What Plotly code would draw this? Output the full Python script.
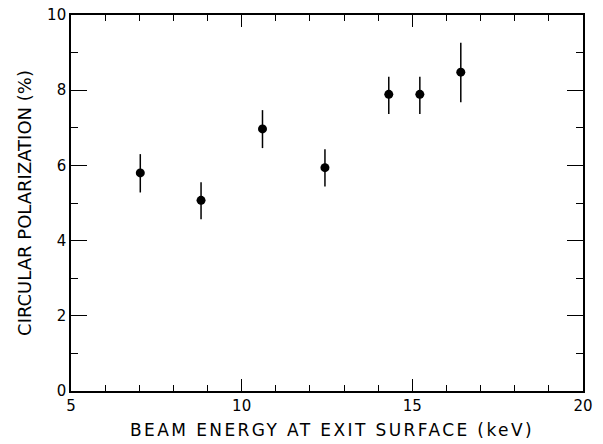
import plotly.graph_objects as go

energy_kev = [7.03, 8.81, 10.61, 12.44, 14.31, 15.22, 16.42]
polarization_pct = [5.80, 5.07, 6.97, 5.94, 7.89, 7.89, 8.48]
err_plus = [0.50, 0.48, 0.50, 0.49, 0.47, 0.47, 0.78]
err_minus = [0.52, 0.50, 0.51, 0.50, 0.52, 0.52, 0.80]

x_ticks = [5, 10, 15, 20]
y_ticks = [0, 2, 4, 6, 8, 10]

FONT = "DejaVu Sans"

fig = go.Figure()
fig.add_trace(go.Scatter(
    x=energy_kev, y=polarization_pct, mode="markers",
    marker=dict(color="black", size=9),
    error_y=dict(type="data", array=err_plus, arrayminus=err_minus,
                 color="black", thickness=1.5, width=0),
    showlegend=False,
))

axis_common = dict(
    showline=True, linecolor="black", linewidth=1.6, mirror="ticks",
    ticks="inside", tickcolor="black", tickwidth=1.4,
    showgrid=False, zeroline=False, automargin=False,
    tickfont=dict(family=FONT, size=15, color="black"),
)

fig.update_xaxes(
    range=[5, 20], tickmode="array", tickvals=x_ticks, ticktext=[str(v) for v in x_ticks],
    ticklen=12,
    minor=dict(dtick=1, ticks="inside", ticklen=6, tickcolor="black", tickwidth=1.4, showgrid=False),
    title=dict(text="BEAM ENERGY AT EXIT SURFACE (keV)", font=dict(family=FONT, size=17, color="black"), standoff=10),
    **axis_common,
)
fig.update_yaxes(
    range=[0, 10], tickmode="array", tickvals=y_ticks, ticktext=[str(v) for v in y_ticks],
    ticklen=16,
    minor=dict(dtick=1, ticks="inside", ticklen=7, tickcolor="black", tickwidth=1.4, showgrid=False),
    title=dict(text="CIRCULAR POLARIZATION (%)", font=dict(family=FONT, size=18, color="black"), standoff=11),
    **axis_common,
)

fig.update_layout(
    width=603, height=444,
    margin=dict(l=70.5, r=19.7, t=14.7, b=53.3),
    plot_bgcolor="white", paper_bgcolor="white",
)

post = ("document.body.style.margin='0';"
        "document.querySelectorAll('.xtitle').forEach(function(e){"
        "e.style.letterSpacing='2.4px';"
        "var b=e.getBBox();var s=332-(b.x+b.width/2);"
        "e.setAttribute('x', parseFloat(e.getAttribute('x'))+s);});")
fig.write_html("out.html", post_script=post, config={"displayModeBar": False})
